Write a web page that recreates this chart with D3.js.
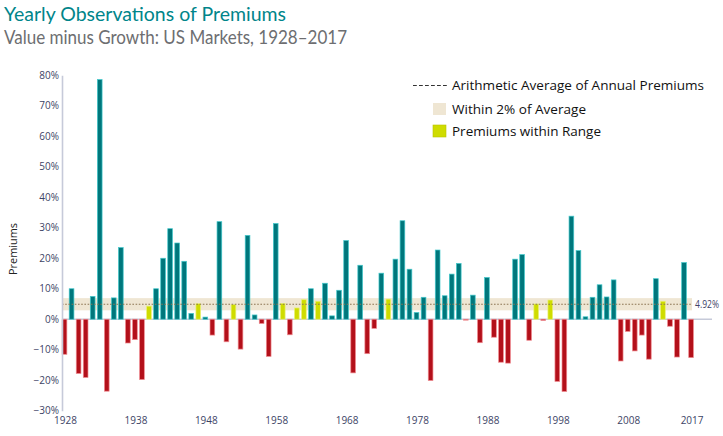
<!DOCTYPE html>
<html>
<head>
<meta charset="utf-8">
<script src="https://cdn.jsdelivr.net/npm/d3@7"></script>
<style>
    body { margin: 0; background: #ffffff; }
    svg text { font-family: "Open Sans", sans-serif; }
    svg text.heading { font-family: Lato, "Open Sans", sans-serif; }
</style>
</head>
<body>
<svg id="chart" width="723" height="436"></svg>
<script>
//=================== DATA ====================================
var firstYear = 1928;

// value minus growth premium per year, in %
var premiums = [
    -11.5, 10.0, -17.8, -19.1, 7.5, 78.6, -23.6, 7.0, 23.5, -7.8,      // 1928-1937
    -6.7, -19.8, 4.3, 10.0, 20.0, 29.7, 25.0, 19.0, 1.9, 5.1,          // 1938-1947
    0.7, -5.2, 32.0, -7.4, 4.8, -9.8, 27.5, 1.4, -1.4, -12.2,          // 1948-1957
    31.4, 5.2, -5.1, 3.7, 6.4, 10.0, 5.9, 11.8, 1.1, 9.5,              // 1958-1967
    25.8, -17.6, 17.7, -11.3, -3.0, 15.1, 6.6, 19.7, 32.3, 16.4,       // 1968-1977
    2.2, 7.2, -20.1, 22.7, 7.7, 14.8, 18.3, -0.3, 7.9, -7.7,           // 1978-1987
    13.7, -5.9, -14.1, -14.4, 19.7, 21.2, -6.9, 5.0, -0.4, 6.3,        // 1988-1997
    -20.4, -23.7, 33.8, 22.5, 0.8, 7.2, 11.3, 7.3, 12.9, -13.7,        // 1998-2007
    -4.0, -10.4, -5.2, -13.1, 13.3, 5.9, -2.3, -12.4, 18.6, -12.6      // 2008-2017
];
var years = premiums.map(function (d, i) { return firstYear + i; });

var yearTicks = [1928, 1938, 1948, 1958, 1968, 1978, 1988, 1998, 2008, 2017];
var percentTicks = [80, 70, 60, 50, 40, 30, 20, 10, 0, -10, -20, -30];

var averagePremium = 4.92;
var rangeHalfWidth = 2;

var titleText = "Yearly Observations of Premiums";
var subtitleText = "Value minus Growth: US Markets, 1928\u20132017";
var legendLabels = ["Arithmetic Average of Annual Premiums", "Within 2% of Average", "Premiums within Range"];

//=================== LAYOUT / STYLE ====================================
var plotLeft = 62;
var plotRight = 692;
var baselineRight = 712;
var plotTop = 75.3;
var plotBottom = 410.7;

var teal = "#00777c", tealEdge = "#43c9cc";
var red = "#b3101a", redEdge = "#f08b90";
var lime = "#cfdc00", limeEdge = "#eaf17a";
var bandColour = "#efe6d3";
var tickColour = "#3d4466";
var axisColour = "#c6cad9";

var svg = d3.select("#chart");

// squeeze / stretch a text to a measured width
function fitText(sel, w) {
    sel.attr("textLength", w).attr("lengthAdjust", "spacingAndGlyphs");
}

//=================== SCALES ====================================
var x = d3.scaleBand()
    .domain(years)
    .range([61, 61 + 90 * 7.04])
    .paddingInner(0.33)
    .paddingOuter(0.165);

var y = d3.scaleLinear()
    .domain([-30, 80])
    .range([plotBottom, plotTop]);

function barColour(v) {
    if (Math.abs(v - averagePremium) <= rangeHalfWidth) return lime;
    return v >= 0 ? teal : red;
}
function barEdge(v) {
    if (Math.abs(v - averagePremium) <= rangeHalfWidth) return limeEdge;
    return v >= 0 ? tealEdge : redEdge;
}

//=================== TITLES ====================================
svg.append("text")
    .classed("heading", true)
    .attr("x", 4).attr("y", 20.5)
    .style("font-size", "18.5px")
    .style("fill", "#00858a")
    .text(titleText)
    .call(fitText, 282);

svg.append("text")
    .classed("heading", true)
    .attr("x", 4).attr("y", 43.8)
    .style("font-size", "18.5px")
    .style("fill", "#6d6e71")
    .text(subtitleText)
    .call(fitText, 343);

//=================== BAND + BASELINE ====================================
svg.append("rect")
    .attr("x", plotLeft)
    .attr("y", y(averagePremium + rangeHalfWidth))
    .attr("width", plotRight - plotLeft)
    .attr("height", y(averagePremium - rangeHalfWidth) - y(averagePremium + rangeHalfWidth))
    .style("fill", bandColour);

svg.append("line")
    .attr("x1", plotLeft).attr("x2", baselineRight)
    .attr("y1", y(0)).attr("y2", y(0))
    .style("stroke", axisColour)
    .style("stroke-width", 1.6);

//=================== BARS ====================================
var grp = svg.append("g").classed("bars", true);

grp.selectAll("rect")
    .data(premiums)
    .enter()
    .append("rect")
    .attr("x", function (d, i) { return x(years[i]); })
    .attr("width", x.bandwidth())
    .attr("y", function (d) { return y(Math.max(0, d)); })
    .attr("height", function (d) { return Math.abs(y(d) - y(0)); })
    .style("fill", barColour)
    .style("stroke", barEdge)
    .style("stroke-width", 0.7);

// average line sits over the bars
svg.append("line")
    .attr("x1", plotLeft).attr("x2", plotRight)
    .attr("y1", y(averagePremium)).attr("y2", y(averagePremium))
    .style("stroke", "#8c7553")
    .style("stroke-width", 1.2)
    .style("stroke-dasharray", "1.6,1.6");

svg.append("text")
    .attr("x", plotRight + 3)
    .attr("y", y(averagePremium))
    .attr("dy", "0.35em")
    .style("font-size", "10px")
    .style("fill", tickColour)
    .text(averagePremium.toFixed(2) + "%")
    .call(fitText, 24);

//=================== AXES ====================================
var yAxis = svg.append("g")
    .attr("transform", "translate(" + plotLeft + ",0)")
    .call(d3.axisLeft(y)
        .tickValues(percentTicks)
        .tickSize(0)
        .tickPadding(3)
        .tickFormat(function (d) { return (d < 0 ? "\u2212" : "") + Math.abs(d) + "%"; }));

yAxis.select(".domain").style("stroke", axisColour).style("stroke-width", 1.6);
yAxis.selectAll("text")
    .style("font-size", "10px")
    .style("fill", tickColour)
    .style("font-family", "'Open Sans', sans-serif");

var xAxis = svg.append("g")
    .attr("transform", "translate(0," + plotBottom + ")")
    .call(d3.axisBottom(x)
        .tickValues(yearTicks)
        .tickSize(0)
        .tickPadding(6));

xAxis.select(".domain").remove();
xAxis.selectAll("text")
    .attr("dx", "0.1em")
    .style("font-size", "10px")
    .style("fill", tickColour)
    .style("font-family", "'Open Sans', sans-serif");

svg.append("text")
    .attr("transform", "translate(16.5,249) rotate(-90)")
    .attr("text-anchor", "middle")
    .style("font-size", "11.5px")
    .style("fill", "#222222")
    .text("Premiums")
    .call(fitText, 52);

//=================== LEGEND ====================================
var legend = svg.append("g").classed("legend", true);

legend.append("line")
    .attr("x1", 413).attr("x2", 448)
    .attr("y1", 85.5).attr("y2", 85.5)
    .style("stroke", "#333333")
    .style("stroke-width", 1.1)
    .style("stroke-dasharray", "3.8,2.2");

legend.append("rect")
    .attr("x", 433).attr("y", 103)
    .attr("width", 13).attr("height", 12)
    .style("fill", bandColour);

legend.append("rect")
    .attr("x", 433).attr("y", 125)
    .attr("width", 13).attr("height", 12)
    .style("fill", lime)
    .style("stroke", "#b9c400")
    .style("stroke-width", 0.6);

var legendWidths = [252, 134, 149];
var legendRows = [85.5, 109, 131];
legend.selectAll("text.item")
    .data(legendLabels)
    .enter()
    .append("text")
    .classed("item", true)
    .attr("x", 452)
    .attr("y", function (d, i) { return legendRows[i]; })
    .attr("dy", "0.36em")
    .style("font-size", "12.5px")
    .style("fill", "#111111")
    .text(function (d) { return d; })
    .each(function (d, i) { d3.select(this).call(fitText, legendWidths[i]); });
</script>
</body>
</html>
